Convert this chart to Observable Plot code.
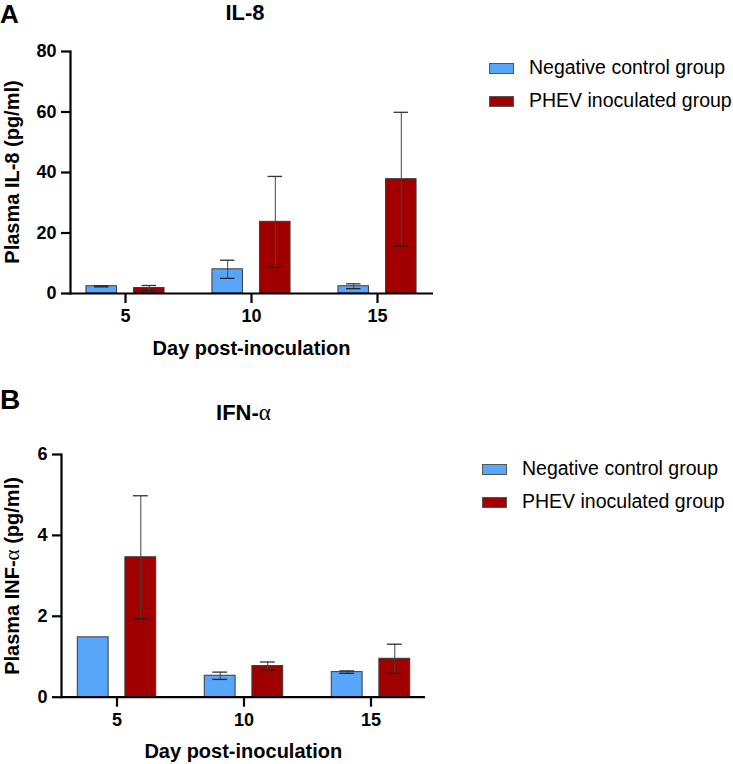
<!DOCTYPE html>
<html>
<head>
<meta charset="utf-8">
<script src="https://cdn.jsdelivr.net/npm/d3@7"></script>
<script src="https://cdn.jsdelivr.net/npm/@observablehq/plot@0.6"></script>
<style>
  html, body { margin: 0; padding: 0; background: #fff; }
  #root { position: relative; width: 733px; height: 764px; overflow: hidden; font-family: "Liberation Sans", Arial, sans-serif; color: #000; }
  .abs { position: absolute; white-space: nowrap; line-height: 1.15; }
  .bold { font-weight: bold; }
  .alpha { font-family: "Liberation Serif", "Times New Roman", serif; font-weight: normal; line-height: 1; }
  .panel { position: absolute; left: 0; }
  .sw { position: absolute; width: 25px; height: 11px; box-sizing: border-box; border: 1px solid #555; }
  .lg { position: absolute; font-size: 19.5px; line-height: 1; white-space: nowrap; }
</style>
</head>
<body>
<div id="root"></div>
<script>
// ---- data ----
const days = [5, 10, 15];
const groups = ["Negative control group", "PHEV inoculated group"];
const colors = ["#58a6f9", "#a00000"];

const il8Neg = [2.4, 8.0, 2.4];
const il8NegSD = [0.2, 3.0, 0.8];
const il8Phev = [1.8, 23.7, 37.8];
const il8PhevSD = [0.85, 15.0, 22.1];
const il8Ticks = [0, 20, 40, 60, 80];

const ifnNeg = [1.48, 0.53, 0.62];
const ifnNegSD = [0, 0.09, 0.03];
const ifnPhev = [3.46, 0.77, 0.95];
const ifnPhevSD = [1.52, 0.10, 0.36];
const ifnTicks = [0, 2, 4, 6];

const FONT = "'Liberation Sans', Arial, sans-serif";

function panel(cfg) {
  const series = [
    {group: groups[0], vals: cfg.neg, sds: cfg.negSD, color: colors[0], dx: -23.8},
    {group: groups[1], vals: cfg.phev, sds: cfg.phevSD, color: colors[1], dx: 23.8}
  ];
  const bw = (cfg.xRange[1] - cfg.xRange[0]) / days.length;
  const barInset = (bw - 31) / 2;
  const capInset = (bw - 15) / 2;
  const marks = [];
  for (const s of series) {
    const rows = days.map((d, i) => ({day: d, value: s.vals[i], sd: s.sds[i]}));
    marks.push(Plot.barY(rows, {x: "day", y: "value", fill: s.color, stroke: "#3a3a3a", strokeWidth: 1,
      insetLeft: barInset, insetRight: barInset, dx: s.dx}));
  }
  for (const s of series) {
    const rows = days.map((d, i) => ({day: d, value: s.vals[i], sd: s.sds[i]})).filter(r => r.sd > 0);
    marks.push(Plot.ruleX(rows, {x: "day", y1: r => r.value - r.sd, y2: r => r.value + r.sd, dx: s.dx, stroke: "#444", strokeWidth: 1}));
    marks.push(Plot.tickY(rows, {x: "day", y: r => r.value + r.sd, dx: s.dx, insetLeft: capInset, insetRight: capInset, stroke: "#333", strokeWidth: 1.3}));
    marks.push(Plot.tickY(rows, {x: "day", y: r => r.value - r.sd, dx: s.dx, insetLeft: capInset, insetRight: capInset, stroke: "#222", strokeWidth: 1.3}));
  }
  marks.push(Plot.ruleY([0], {stroke: "#000", strokeWidth: 2.2}));
  marks.push(Plot.frame({anchor: "left", stroke: "#000", strokeWidth: 2.2}));
  marks.push(Plot.axisX({tickSize: 10, tickPadding: 6, fontSize: 18, fontWeight: "bold", strokeWidth: 2.2, label: null}));
  marks.push(Plot.axisY({ticks: cfg.ticks, tickFormat: d3.format("d"), tickSize: 9, tickPadding: 5, fontSize: 18, fontWeight: "bold", strokeWidth: 2.2, label: null}));
  return Plot.plot({
    width: 733,
    height: cfg.height,
    marginLeft: cfg.marginLeft,
    marginRight: cfg.marginRight,
    marginTop: cfg.marginTop,
    marginBottom: cfg.marginBottom,
    style: {fontFamily: FONT, color: "#000", background: "transparent", overflow: "visible"},
    x: {type: "band", domain: days, range: cfg.xRange, padding: 0, label: null},
    y: {domain: [0, cfg.yMax], label: null},
    marks
  });
}

const root = document.getElementById("root");

function addPanel(svg, top) {
  const wrap = document.createElement("div");
  wrap.className = "panel";
  wrap.style.top = top + "px";
  wrap.appendChild(svg);
  root.appendChild(wrap);
}

function addText(txt, opts) {
  const el = document.createElement("div");
  el.className = "abs" + (opts.bold ? " bold" : "");
  el.style.fontSize = opts.size + "px";
  el.style.left = opts.x + "px";
  el.style.top = opts.y + "px";
  if (opts.transform) el.style.transform = opts.transform;
  if (opts.alpha) {
    // text with a Greek alpha rendered in a serif face, as in the reference
    const parts = txt.split("\u03b1");
    el.appendChild(document.createTextNode(parts[0]));
    const a = document.createElement("span");
    a.className = "alpha";
    a.style.fontSize = "1.05em";
    a.textContent = "\u03b1";
    el.appendChild(a);
    el.appendChild(document.createTextNode(parts[1]));
  } else {
    el.textContent = txt;
  }
  root.appendChild(el);
  return el;
}

function addLegend(x, y, rowGap) {
  groups.forEach((g, i) => {
    const sw = document.createElement("div");
    sw.className = "sw";
    sw.style.left = x + "px";
    sw.style.top = (y + i * rowGap) + "px";
    sw.style.background = colors[i];
    root.appendChild(sw);
    const t = document.createElement("div");
    t.className = "lg";
    t.textContent = g;
    t.style.left = (x + 40) + "px";
    t.style.top = (y + i * rowGap - 5) + "px";
    root.appendChild(t);
  });
}

// Panel A
addPanel(panel({neg: il8Neg, negSD: il8NegSD, phev: il8Phev, phevSD: il8PhevSD, yMax: 80, ticks: il8Ticks,
  xRange: [61.5, 441], height: 330, marginLeft: 70, marginRight: 300, marginTop: 51, marginBottom: 37}), 0);

// Panel B
addPanel(panel({neg: ifnNeg, negSD: ifnNegSD, phev: ifnPhev, phevSD: ifnPhevSD, yMax: 6, ticks: ifnTicks,
  xRange: [53.1, 434.6], height: 384, marginLeft: 61, marginRight: 308, marginTop: 74, marginBottom: 67.3}), 380);

// Panel letters and titles (line-height 1.15: baseline ≈ top + 0.92em)
addText("A", {size: 26, bold: true, x: 0, y: 0});
addText("B", {size: 28, bold: true, x: 0, y: 384});
addText("IL-8", {size: 22, bold: true, x: 245, y: 0, transform: "translateX(-50%)"});
addText("IFN-\u03b1", {size: 22, bold: true, alpha: true, x: 243.5, y: 400, transform: "translateX(-50%)"});

// Axis titles
addText("Day post-inoculation", {size: 20, bold: true, x: 251.5, y: 337, transform: "translateX(-50%)"});
addText("Day post-inoculation", {size: 20, bold: true, x: 243.3, y: 740, transform: "translateX(-50%)"});
addText("Plasma IL-8 (pg/ml)", {size: 20, bold: true, x: 12, y: 172, transform: "translate(-50%,-50%) rotate(-90deg)"});
addText("Plasma INF-\u03b1 (pg/ml)", {size: 20, bold: true, alpha: true, x: 12, y: 575.5, transform: "translate(-50%,-50%) rotate(-90deg)"});

// Legends
addLegend(489, 63, 33);
addLegend(482, 464, 33);
</script>
</body>
</html>
